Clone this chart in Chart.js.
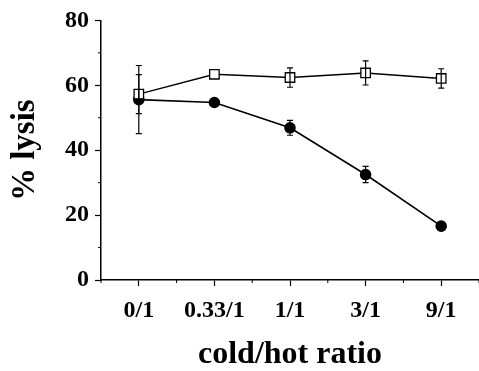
<!DOCTYPE html>
<html>
<head>
<meta charset="utf-8">
<script src="https://cdn.jsdelivr.net/npm/chart.js@4"></script>
<style>
  html, body { margin: 0; padding: 0; background: #fff; }
  #wrap { width: 479px; height: 371px; }
</style>
</head>
<body>
<div id="wrap"><canvas id="chartLysis"></canvas></div>
<script>
// data
const ratios = ["0/1", "0.33/1", "1/1", "3/1", "9/1"];
const openSquares = [57.3, 63.4, 62.4, 63.8, 62.1];
const openSquaresErr = [6, 0, 3, 3.7, 3];
const filledCircles = [55.6, 54.7, 46.9, 32.5, 16.6];
const filledCirclesErr = [10.5, 0, 2.3, 2.5, 0];
const yTicks = [0, 20, 40, 60, 80];

const font = "'Liberation Serif', 'Times New Roman', serif";

// error bars + minor ticks, drawn through the scales
const extras = {
    id: "extras",
    afterDatasetsDraw(chart) {
        const ctx = chart.ctx;
        const x = chart.scales.x, y = chart.scales.y;
        ctx.save();
        ctx.strokeStyle = "#000";
        ctx.lineWidth = 1.2;
        const sets = [[openSquares, openSquaresErr], [filledCircles, filledCirclesErr]];
        sets.forEach(function (s) {
            s[0].forEach(function (v, i) {
                const e = s[1][i];
                if (!e) return;
                const px = x.getPixelForValue(i);
                const top = y.getPixelForValue(v + e), bot = y.getPixelForValue(v - e);
                ctx.beginPath();
                ctx.moveTo(px, top); ctx.lineTo(px, bot);
                ctx.moveTo(px - 3, top); ctx.lineTo(px + 3, top);
                ctx.moveTo(px - 3, bot); ctx.lineTo(px + 3, bot);
                ctx.stroke();
            });
        });
        // minor ticks
        ctx.lineWidth = 1;
        for (let v = 10; v < 80; v += 20) {
            const py = y.getPixelForValue(v);
            ctx.beginPath(); ctx.moveTo(chart.chartArea.left - 3, py); ctx.lineTo(chart.chartArea.left, py); ctx.stroke();
        }
        for (let v = -0.5; v <= 4.5; v += 1) {
            const px = x.getPixelForValue(v);
            ctx.beginPath(); ctx.moveTo(px, chart.chartArea.bottom); ctx.lineTo(px, chart.chartArea.bottom + 3); ctx.stroke();
        }
        ctx.restore();
    }
};

const dataLysis = {
    datasets: [
    {
        label: "open",
        data: openSquares.map((v, i) => ({ x: i, y: v })),
        borderColor: "#000",
        backgroundColor: "#fff",
        borderWidth: 1.4,
        pointStyle: "rect",
        pointRadius: 6.7,
        pointBorderWidth: 1.3,
    },
    {
        label: "filled",
        data: filledCircles.map((v, i) => ({ x: i, y: v })),
        borderColor: "#000",
        backgroundColor: "#000",
        borderWidth: 1.6,
        pointStyle: "circle",
        pointRadius: 5,
    },
    ],
};

const configLysis = {
    type: "line",
    data: dataLysis,
    plugins: [extras],
    options: {
        responsive: true,
        maintainAspectRatio: false,
        animation: false,
        layout: { autoPadding: false, padding: { top: 20, right: 0, left: 0, bottom: 0 } },
        plugins: { legend: { display: false }, tooltip: { enabled: false } },
        scales: {
            x: {
                type: "linear",
                min: -0.5,
                max: 4.5,
                afterBuildTicks: function (s) {
                    s.ticks = ratios.map((r, i) => ({ value: i }));
                },
                ticks: {
                    callback: (v) => ratios[v],
                    color: "#000",
                    font: { family: font, size: 24, weight: "bold" },
                    padding: 10,
                    maxRotation: 0,
                    autoSkip: false,
                },
                grid: { drawOnChartArea: false, color: "#000", tickLength: 6, tickWidth: 1.2 },
                border: { color: "#000", width: 1.5 },
                title: {
                    display: true,
                    text: "cold/hot ratio",
                    color: "#000",
                    font: { family: font, size: 32, weight: "bold", lineHeight: 1 },
                    padding: { top: 8, bottom: 0 },
                },
                afterFit: function (s) { s.height = 91; },
            },
            y: {
                min: 0,
                max: 80,
                afterBuildTicks: function (s) {
                    s.ticks = yTicks.map((v) => ({ value: v }));
                },
                ticks: {
                    color: "#000",
                    font: { family: font, size: 24, weight: "bold" },
                    padding: 6,
                },
                grid: { drawOnChartArea: false, color: "#000", tickLength: 6, tickWidth: 1.2 },
                border: { color: "#000", width: 1.5 },
                title: {
                    display: true,
                    text: "% lysis",
                    color: "#000",
                    font: { family: font, size: 33, weight: "bold" },
                    padding: { top: 6, bottom: 0 },
                },
                afterFit: function (s) { s.width = 101; },
            },
        },
    },
};

var chartLysis = new Chart(document.getElementById("chartLysis"), configLysis);
</script>
</body>
</html>
